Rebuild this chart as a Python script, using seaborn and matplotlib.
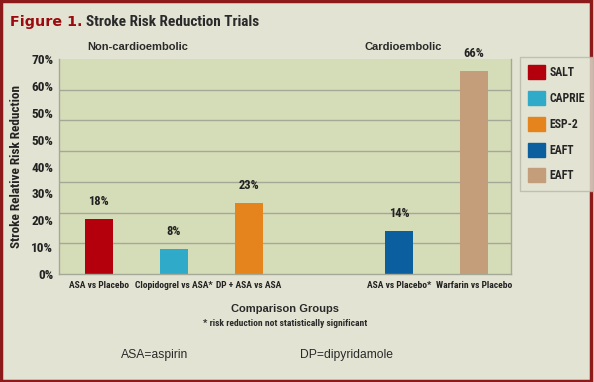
import matplotlib
matplotlib.use("Agg")
import matplotlib.pyplot as plt
import matplotlib.patches as mpatches
from matplotlib import font_manager
import pandas as pd
import seaborn as sns

# -------------------------------
# Data
# -------------------------------

comparisons = ["ASA vs Placebo", "Clopidogrel vs ASA*", "DP + ASA vs ASA",
               "ASA vs Placebo*", "Warfarin vs Placebo"]
trials = ["SALT", "CAPRIE", "ESP-2", "EAFT", "EAFT"]
reduction = [18, 8, 23, 14, 66]
value_labels = ["18%", "8%", "23%", "14%", "66%"]
bar_colors = ["#B3000C", "#2FAAC9", "#E5841D", "#0B5F9F", "#C49D7B"]

# the blank slot separates the two groups
order = comparisons[:3] + [" "] + comparisons[3:]

ytick_labels = ["0%", "10%", "20%", "30%", "40%", "50%", "50%", "60%", "70%"]

df = pd.DataFrame({"comparison": comparisons, "reduction": reduction})

# -------------------------------
# Style
# -------------------------------

FIG_BG = "#E3E3D3"
PLOT_BG = "#D5DCB8"
GRID = "#A3A897"
TXT = "#222222"

installed = {f.name for f in font_manager.fontManager.ttflist}
narrow_pick = [n for n in ["Liberation Sans Narrow", "DejaVu Sans Condensed",
                           "Roboto Condensed", "Open Sans Condensed"]
               if n in installed]
NARROW = narrow_pick[:1] + ["DejaVu Sans"]
HAVE_NARROW = bool(narrow_pick)
k = 1.0 if HAVE_NARROW else 0.85  # shrink if only a wide font is available

sns.set_theme(style="white")
plt.rcParams["font.family"] = ["Liberation Sans", "DejaVu Sans"]

fig = plt.figure(figsize=(5.94, 3.82), dpi=100, facecolor=FIG_BG)
ax = fig.add_axes([0.0993, 0.2827, 0.761, 0.5628])
ax.set_facecolor(PLOT_BG)

sns.barplot(data=df, x="comparison", y="reduction", hue="comparison",
            order=order, hue_order=comparisons, palette=bar_colors,
            width=0.38, legend=False, saturation=1, linewidth=0, ax=ax)

ax.set_xlim(-0.53, 5.49)
ax.set_ylim(0, 70)

# gridlines every 10%, labels as printed in the original
ax.set_yticks(range(0, 71, 10), minor=True)
ax.grid(which="minor", axis="y", color=GRID, linewidth=1)
ax.set_axisbelow(True)
ax.set_yticks([i * 70 / 8 for i in range(9)])
ax.set_yticklabels(ytick_labels, family=NARROW, fontsize=9.5 * k,
                   fontweight="bold", color=TXT)
ax.tick_params(axis="y", which="both", length=0, pad=4)
ax.tick_params(axis="x", length=0, pad=5)
for lbl in ax.get_xticklabels():
    lbl.set_family(NARROW)
    lbl.set_fontsize(6.8 * k)
    lbl.set_fontweight("bold")
    lbl.set_color(TXT)

for s in ["top", "right", "bottom", "left"]:
    ax.spines[s].set_color(GRID)
    ax.spines[s].set_linewidth(1)
ax.spines["top"].set_visible(False)

for bar, txt in zip([p for p in ax.patches if p.get_height() > 0], value_labels):
    ax.annotate(txt, (bar.get_x() + bar.get_width() / 2, bar.get_height()),
                xytext=(0, 8), textcoords="offset points", ha="center",
                va="bottom", family=NARROW, fontsize=9 * k,
                fontweight="bold", color=TXT)

ax.set_xlabel("")
ax.set_ylabel("Stroke Relative Risk Reduction", family=NARROW,
              fontsize=9.5 * k, fontweight="bold", color=TXT, labelpad=6)

# -------------------------------
# Legend
# -------------------------------

handles = [mpatches.Patch(color=c, label=t) for c, t in zip(bar_colors, trials)]
leg = fig.legend(handles=handles, loc="upper left", bbox_to_anchor=(0.875, 0.851),
                 borderaxespad=0, frameon=True, fancybox=False,
                 handlelength=1.45, handleheight=1.45, labelspacing=1.0,
                 borderpad=0.7, handletextpad=0.35,
                 prop={"family": NARROW, "size": 8.5 * k, "weight": "bold"})
leg.get_frame().set_facecolor(FIG_BG)
leg.get_frame().set_edgecolor("#B5B8A8")

# -------------------------------
# Text
# -------------------------------

fig.text(0.017, 0.943, "Figure 1.", color="#9B0A0F", family="DejaVu Sans",
         fontsize=10.3, fontweight="bold", va="center")
fig.text(0.145, 0.943, "Stroke Risk Reduction Trials", color="#2A2A2A",
         family=NARROW, fontsize=11, fontweight="bold", va="center")
fig.text(0.232, 0.877, "Non-cardioembolic", fontsize=8, fontweight="bold",
         color="#2A2A2A", ha="center", va="center")
fig.text(0.678, 0.877, "Cardioembolic", fontsize=8, fontweight="bold",
         color="#2A2A2A", ha="center", va="center")
fig.text(0.48, 0.191, "Comparison Groups", fontsize=8, fontweight="bold",
         color="#2A2A2A", ha="center", va="center")
fig.text(0.48, 0.154, "* risk reduction not statistically significant",
         family=NARROW, fontsize=6.8 * k, fontweight="bold", color="#2A2A2A",
         ha="center", va="center")
fig.text(0.261, 0.071, "ASA=aspirin", fontsize=8.7, color="#2A2A2A",
         ha="center", va="center")
fig.text(0.584, 0.071, "DP=dipyridamole", fontsize=8.7, color="#2A2A2A",
         ha="center", va="center")

# dark red frame
fig.patches.append(mpatches.Rectangle((0.002, 0.003), 0.993, 0.994,
                                      transform=fig.transFigure, fill=False,
                                      edgecolor="#8C1A1A", linewidth=2.5))

plt.savefig("out.png", dpi=100, facecolor=FIG_BG)
plt.close()
